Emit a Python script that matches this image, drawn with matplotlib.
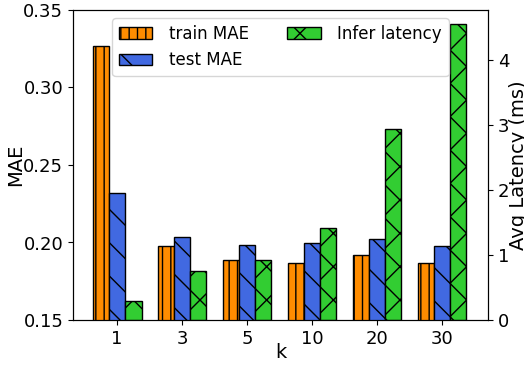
import matplotlib
matplotlib.use("Agg")
import matplotlib.pyplot as plt
import numpy as np

k_labels = ["1", "3", "5", "10", "20", "30"]
train_mae = [0.327, 0.198, 0.189, 0.1866, 0.1917, 0.1866]
test_mae = [0.2317, 0.2034, 0.1982, 0.1995, 0.202, 0.1975]
latency = [0.29, 0.76, 0.93, 1.41, 2.94, 4.55]

fig = plt.figure(figsize=(5.24, 3.66), dpi=100)
ax = fig.add_axes([73/524, 1-320/366, (488-73)/524, (320-10)/366])
ax2 = ax.twinx()

x = np.arange(len(k_labels))
w = 0.25
b1 = ax.bar(x - w, train_mae, w, color="darkorange", edgecolor="black", hatch="||", label="train MAE")
b2 = ax.bar(x, test_mae, w, color="royalblue", edgecolor="black", hatch="\\", label="test MAE")
b3 = ax2.bar(x + w, latency, w, color="limegreen", edgecolor="black", hatch="x", label="Infer latency")

ax.set_ylim(0.15, 0.35)
ax.set_yticks([0.15, 0.20, 0.25, 0.30, 0.35])
ax2.set_ylim(0, 4.77)
ax2.set_yticks([0, 1, 2, 3, 4])
ax.set_xticks(x)
ax.set_xticklabels(k_labels)
ax.set_xlim(-0.68, 5.71)

fs = 13
ax.tick_params(labelsize=fs)
ax2.tick_params(labelsize=fs)
ax.set_xlabel("k", fontsize=14)
ax.set_ylabel("MAE", fontsize=14)
ax2.set_ylabel("Avg Latency (ms)", fontsize=14)
ax.yaxis.set_label_coords(-0.116, 0.5)
ax2.yaxis.set_label_coords(1.051, 0.5)
ax.xaxis.set_label_coords(0.5, -0.074)

ax2.legend([b1, b2, b3], ["train MAE", "test MAE", "Infer latency"], loc="upper center",
           ncol=2, fontsize=12, handlelength=2.0, handletextpad=1.0, columnspacing=2.3,
           borderaxespad=0.5)

fig.savefig("out.png", dpi=100)
